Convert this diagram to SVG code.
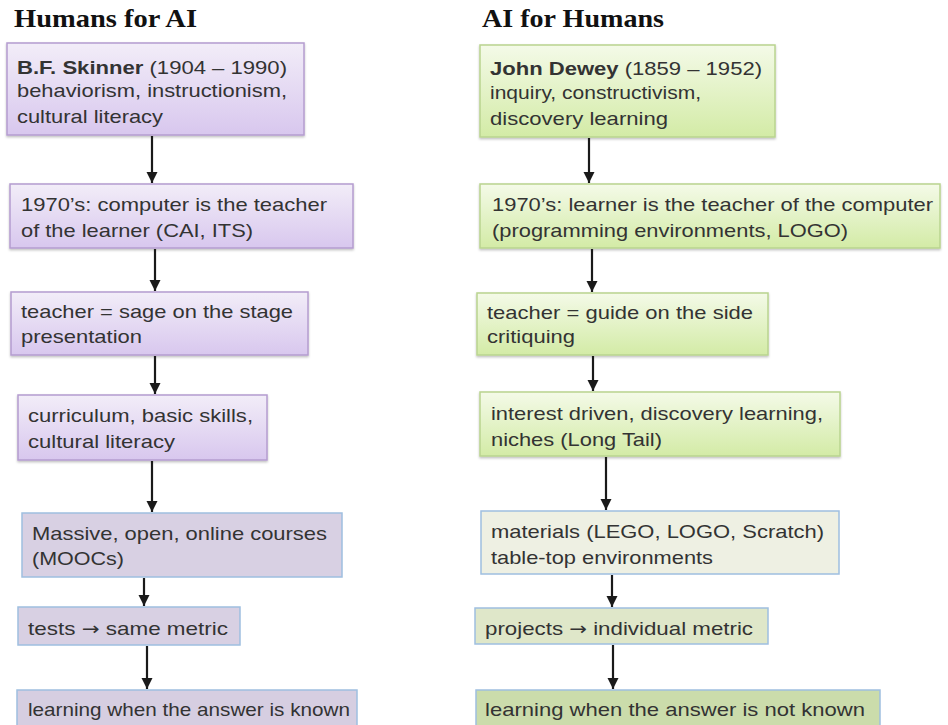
<svg xmlns="http://www.w3.org/2000/svg" width="948" height="725" viewBox="0 0 948 725">
<style>
.title{font-family:"Liberation Serif","Times New Roman",serif;font-weight:bold;font-size:25px;fill:#111}
.t{font-family:"Liberation Sans",Arial,Helvetica,sans-serif;font-size:19px;fill:#333}
.b{font-weight:bold}
.ar{font-family:"DejaVu Sans",sans-serif;font-size:18px}
.pg{fill:url(#pgrad);stroke:#b49ccf;stroke-width:1.5;filter:url(#sh)}
.gg{fill:url(#ggrad);stroke:#b9d48f;stroke-width:1.5;filter:url(#sh)}
.flat{stroke:#9ebfe0;stroke-width:1.5}
.conn line{stroke:#1a1a1a;stroke-width:2.2;marker-end:url(#ah)}
</style>
<defs>
<linearGradient id="pgrad" x1="0" y1="0" x2="0" y2="1"><stop offset="0" stop-color="#f2edf8"/><stop offset="1" stop-color="#d8c7ee"/></linearGradient>
<linearGradient id="ggrad" x1="0" y1="0" x2="0" y2="1"><stop offset="0" stop-color="#f4fae8"/><stop offset="1" stop-color="#d3eba6"/></linearGradient>
<filter id="sh" x="-5%" y="-10%" width="110%" height="130%"><feDropShadow dx="0" dy="1.5" stdDeviation="1.2" flood-color="#000" flood-opacity="0.25"/></filter>
<marker id="ah" markerUnits="userSpaceOnUse" markerWidth="11" markerHeight="12" refX="10" refY="5" orient="auto" viewBox="0 0 10 10"><path d="M0,0 L10,5 L0,10 z" fill="#1a1a1a"/></marker>
</defs>
<rect width="948" height="725" fill="#fff"/>
<text class="title" x="14" y="27" textLength="183" lengthAdjust="spacingAndGlyphs">Humans for AI</text>
<text class="title" x="482" y="27" textLength="182" lengthAdjust="spacingAndGlyphs">AI for Humans</text>

<g id="L1"><rect class="pg" x="7" y="43" width="297" height="92"/>
<text class="t" x="17" y="74" textLength="270" lengthAdjust="spacingAndGlyphs"><tspan class="b">B.F.  Skinner</tspan> (1904 – 1990)</text>
<text class="t" x="17" y="97" textLength="270" lengthAdjust="spacingAndGlyphs">behaviorism, instructionism,</text>
<text class="t" x="17" y="123" textLength="146" lengthAdjust="spacingAndGlyphs">cultural literacy</text></g>

<g id="L2"><rect class="pg" x="10" y="184" width="343" height="64"/>
<text class="t" x="21" y="211" textLength="306" lengthAdjust="spacingAndGlyphs">1970’s: computer is the teacher</text>
<text class="t" x="21" y="237" textLength="232" lengthAdjust="spacingAndGlyphs">of the learner (CAI, ITS)</text></g>

<g id="L3"><rect class="pg" x="11" y="292" width="297" height="63"/>
<text class="t" x="21" y="318" textLength="272" lengthAdjust="spacingAndGlyphs">teacher = sage on the stage</text>
<text class="t" x="21" y="343" textLength="121" lengthAdjust="spacingAndGlyphs">presentation</text></g>

<g id="L4"><rect class="pg" x="18" y="395" width="249" height="65"/>
<text class="t" x="28" y="422" textLength="225" lengthAdjust="spacingAndGlyphs">curriculum, basic skills,</text>
<text class="t" x="28" y="448" textLength="147" lengthAdjust="spacingAndGlyphs">cultural literacy</text></g>

<g id="L5"><rect class="flat" x="22" y="513" width="320" height="64" fill="#d8d0e3"/>
<text class="t" x="32" y="540" textLength="295" lengthAdjust="spacingAndGlyphs">Massive, open, online courses</text>
<text class="t" x="32" y="565" textLength="92" lengthAdjust="spacingAndGlyphs">(MOOCs)</text></g>

<g id="L6"><rect class="flat" x="18" y="607" width="222" height="38" fill="#d8d0e3"/>
<text class="t" x="28" y="635" textLength="200" lengthAdjust="spacingAndGlyphs">tests <tspan class="ar">→</tspan> same metric</text></g>

<g id="L7"><rect class="flat" x="17" y="690" width="340" height="45" fill="#d6cee1"/>
<text class="t" x="28" y="716" textLength="322" lengthAdjust="spacingAndGlyphs">learning when the answer is known</text></g>

<g id="R1"><rect class="gg" x="480" y="45" width="295" height="92"/>
<text class="t" x="490" y="75" textLength="272" lengthAdjust="spacingAndGlyphs"><tspan class="b">John Dewey</tspan> (1859 – 1952)</text>
<text class="t" x="490" y="99" textLength="211" lengthAdjust="spacingAndGlyphs">inquiry, constructivism,</text>
<text class="t" x="490" y="125" textLength="178" lengthAdjust="spacingAndGlyphs">discovery learning</text></g>

<g id="R2"><rect class="gg" x="480" y="184" width="460" height="64"/>
<text class="t" x="492" y="211" textLength="441" lengthAdjust="spacingAndGlyphs">1970’s: learner is the teacher of the computer</text>
<text class="t" x="492" y="237" textLength="356" lengthAdjust="spacingAndGlyphs">(programming environments, LOGO)</text></g>

<g id="R3"><rect class="gg" x="477" y="293" width="291" height="62"/>
<text class="t" x="487" y="319" textLength="266" lengthAdjust="spacingAndGlyphs">teacher = guide on the side</text>
<text class="t" x="487" y="343" textLength="88" lengthAdjust="spacingAndGlyphs">critiquing</text></g>

<g id="R4"><rect class="gg" x="480" y="392" width="360" height="64"/>
<text class="t" x="491" y="420" textLength="332" lengthAdjust="spacingAndGlyphs">interest driven, discovery learning,</text>
<text class="t" x="491" y="446" textLength="171" lengthAdjust="spacingAndGlyphs">niches (Long Tail)</text></g>

<g id="R5"><rect class="flat" x="481" y="511" width="358" height="63" fill="#eef0e3"/>
<text class="t" x="491" y="538" textLength="333" lengthAdjust="spacingAndGlyphs">materials (LEGO, LOGO, Scratch)</text>
<text class="t" x="491" y="564" textLength="222" lengthAdjust="spacingAndGlyphs">table-top environments</text></g>

<g id="R6"><rect class="flat" x="475" y="608" width="293" height="36" fill="#dfe7c9"/>
<text class="t" x="485" y="635" textLength="268" lengthAdjust="spacingAndGlyphs">projects <tspan class="ar">→</tspan> individual metric</text></g>

<g id="R7"><rect class="flat" x="476" y="690" width="404" height="45" fill="#cbdcab"/>
<text class="t" x="485" y="716" textLength="380" lengthAdjust="spacingAndGlyphs">learning when the answer is not known</text></g>

<g id="connectors" class="conn">
<line x1="152" y1="136" x2="152" y2="183"/>
<line x1="155" y1="249" x2="155" y2="291"/>
<line x1="155" y1="356" x2="155" y2="394"/>
<line x1="152" y1="461" x2="152" y2="512"/>
<line x1="144" y1="578" x2="144" y2="606"/>
<line x1="147" y1="646" x2="147" y2="689"/>
<line x1="589" y1="138" x2="589" y2="183"/>
<line x1="592" y1="249" x2="592" y2="292"/>
<line x1="593" y1="356" x2="593" y2="391"/>
<line x1="606" y1="457" x2="606" y2="510"/>
<line x1="612" y1="575" x2="612" y2="607"/>
<line x1="613" y1="645" x2="613" y2="689"/>
</g>
</svg>
